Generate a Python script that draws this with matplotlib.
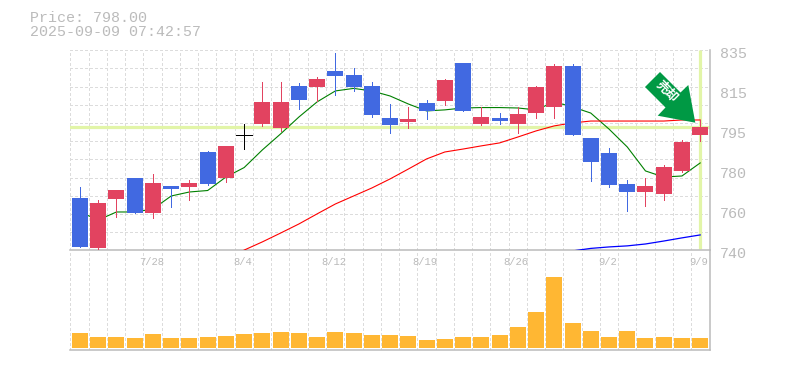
# Candlestick chart with moving averages and volume
import numpy as np
import matplotlib
matplotlib.use('Agg')
import matplotlib.pyplot as plt
from matplotlib.patches import Polygon

# candle values, oldest first
opens = [764.9, 741.1, 764.4, 774.4, 757.7, 770.6, 770.1, 786.7, 774.4, 794.6, 800.0, 798.1,
         818.1, 817.6, 825.2, 823.3, 818.1, 802.9, 801.0, 810.0, 810.9, 829.0, 800.0, 802.9,
         800.0, 805.2, 808.1, 827.6, 793.4, 786.2, 771.5, 767.7, 766.8, 777.7, 794.8]
closes = [741.6, 762.5, 768.6, 757.7, 772.0, 769.1, 772.0, 771.5, 789.6, 794.6, 810.5, 810.5,
          811.4, 821.4, 822.8, 817.6, 804.3, 799.5, 802.4, 806.2, 820.9, 806.2, 803.3, 801.4,
          804.8, 817.6, 827.6, 794.8, 782.0, 771.0, 767.7, 770.6, 779.6, 791.5, 798.6]
highs = [770.1, 763.9, 768.6, 774.4, 776.2, 770.6, 773.4, 787.2, 789.6, 800.0, 819.9, 819.9,
         819.5, 822.3, 833.7, 826.6, 819.9, 809.5, 808.1, 811.4, 821.4, 829.0, 808.1, 805.2,
         808.1, 818.1, 828.5, 828.5, 793.4, 788.6, 773.4, 774.4, 780.5, 792.4, 801.9]
lows = [741.6, 740.6, 755.8, 757.7, 755.4, 760.6, 763.9, 771.0, 772.4, 788.1, 799.1, 796.7,
        807.1, 810.9, 813.8, 815.7, 803.3, 795.7, 798.1, 802.4, 809.0, 806.2, 799.5, 800.0,
        795.7, 802.9, 802.9, 794.8, 772.9, 770.1, 758.7, 761.0, 763.9, 777.2, 791.9]

# moving averages
ma_short = [758.2, 754.4, 758.2, 758.2, 759.6, 765.8, 767.7, 768.4, 774.8, 779.3, 787.7, 795.3,
            803.3, 810.5, 815.7, 816.9, 815.7, 813.3, 809.5, 806.2, 806.7, 807.6, 807.8, 807.8,
            807.6, 806.7, 810.5, 808.1, 805.2, 797.6, 789.1, 777.7, 774.8, 775.3, 781.5]
ma_mid = [740.1, 744.0, 748.2, 752.5, 757.3, 762.0, 765.8, 769.6, 773.9, 778.6, 783.4, 786.7,
          788.1, 789.6, 791.0, 793.8, 796.7, 799.1, 800.5, 801.4, 801.4, 801.4, 801.4, 801.4,
          801.9, 801.9]
ma_long = [739.7, 740.9, 741.6, 742.1, 743.0, 744.4, 745.9, 747.3]

volumes = [15, 11, 11, 10, 14, 10, 10, 11, 12, 14, 15, 16, 15, 11, 16, 15, 13, 13,
           12, 8, 9, 11, 11, 13, 21, 36, 71, 25, 17, 11, 17, 10, 11, 10, 10]

date_pos = [4, 9, 14, 19, 24, 29, 34]
date_labels = ['7/28', '8/4', '8/12', '8/19', '8/26', '9/2', '9/9']

price_ticks = [740, 759, 778, 797, 816, 835]
price_labels = ['740', '760', '780', '795', '815', '835']

last_price = 798.6
n = len(opens)
x = np.arange(n)

RED = '#e24360'
BLUE = '#4169e1'
GRID = '#dcdcdc'
EDGE = '#bbbbbb'
HILITE = '#e2f5a8'
DASH = (0, (3, 2.2))
W, H = 785, 370


def px(a, b):
    # picture pixels to figure fraction
    return a / W, 1 - b / H


fig = plt.figure(figsize=(W / 100, H / 100), dpi=100)
ax = fig.add_axes([70.3 / W, 1 - 250.3 / H, 639.2 / W, 200 / H])
ax2 = fig.add_axes([70.3 / W, 1 - 350 / H, 639.2 / W, 99.7 / H])

xmin, xmax = -0.53, 34.51
grid_x = np.linspace(xmin, xmax, 36)
grid_y = np.linspace(740, 835, 12)

# price panel
ax.set_xlim(xmin, xmax)
ax.set_ylim(740, 835)
ax.vlines(grid_x, 740, 835, color=GRID, lw=0.7, ls=DASH, zorder=1, antialiased=False)
ax.hlines(grid_y, xmin, xmax, color=GRID, lw=0.7, ls=DASH, zorder=1, antialiased=False)
ax.axhline(last_price, color=HILITE, lw=2.3, zorder=2)
ax.plot([x[-1], x[-1]], [740.5, 835], color=HILITE, lw=2.3, zorder=2, solid_capstyle='butt')

ax.plot(x, ma_short, color='#008000', lw=0.8, zorder=3)
ax.plot(x[9:], ma_mid, color='#ff0000', lw=0.8, zorder=3)
ax.plot(x[27:], ma_long, color='#0000ff', lw=0.9, zorder=3)

for i in range(n):
    if closes[i] > opens[i]:
        c = RED
    elif closes[i] < opens[i]:
        c = BLUE
    else:
        c = 'black'
    ax.vlines(i, lows[i], highs[i], color=c, lw=0.7, zorder=4, antialiased=False)
    if c == 'black':
        ax.hlines(opens[i], i - 0.44, i + 0.44, color=c, lw=0.7, zorder=4, antialiased=False)
    else:
        ax.bar(i, abs(closes[i] - opens[i]), bottom=min(opens[i], closes[i]), width=0.877,
               color=c, zorder=4, antialiased=False)

ax.yaxis.tick_right()
ax.set_yticks(price_ticks)
ax.set_yticklabels(price_labels, family='Liberation Mono', fontsize=10.8, color=EDGE)
ax.tick_params(axis='y', length=0, pad=7.5)
ax.set_xticks([])
shift = matplotlib.transforms.ScaledTranslation(0, -2 / 100, fig.dpi_scale_trans)
for lab in ax.get_yticklabels():
    lab.set_transform(lab.get_transform() + shift)

# volume panel
ax2.set_xlim(xmin, xmax)
ax2.set_ylim(-2, 97.7)
ax2.vlines(grid_x, -2, 97.7, color=GRID, lw=0.7, ls=DASH, zorder=1, antialiased=False)
ax2.bar(x, volumes, width=0.877, color='#ffb733', zorder=3, antialiased=False)
ax2.set_xticks([])
ax2.set_yticks([])
for pos, lab in zip(date_pos, date_labels):
    ax2.text(pos - 0.08, 86, lab, family='Liberation Mono', fontsize=7.6, color=EDGE,
             ha='center', va='center', zorder=2)

for a in (ax, ax2):
    for side in a.spines:
        a.spines[side].set_visible(False)
    a.patch.set_alpha(0)
    a.spines['bottom'].set_visible(True)
    a.spines['bottom'].set_color(EDGE)
    a.spines['bottom'].set_linewidth(1.1)
    a.spines['right'].set_visible(True)
    a.spines['right'].set_color(EDGE)
    a.spines['right'].set_linewidth(1.1)

# header text
fig.text(*px(30, 18), 'Price: 798.00', family='Liberation Mono', fontsize=10.8, color=EDGE, va='center')
fig.text(*px(30, 32), '2025-09-09 07:42:57', family='Liberation Mono', fontsize=10.8, color=EDGE, va='center')

# green signal arrow
arrow_outline = [(660, 72), (645, 87), (665.5, 107.5), (657.7, 115.7), (695.3, 122.7), (688.3, 85), (680.5, 92.5)]
fig.add_artist(Polygon([px(a, b) for a, b in arrow_outline], closed=True, facecolor='#009944',
                       edgecolor='none', transform=fig.transFigure, zorder=6))
fig.text(*px(667, 92), '売却', family=['Noto Sans CJK JP', 'DejaVu Sans'], fontsize=9, fontweight='bold',
         color='white', rotation=-45, ha='center', va='center', rotation_mode='anchor', zorder=7)

plt.savefig('out.png', dpi=100)
